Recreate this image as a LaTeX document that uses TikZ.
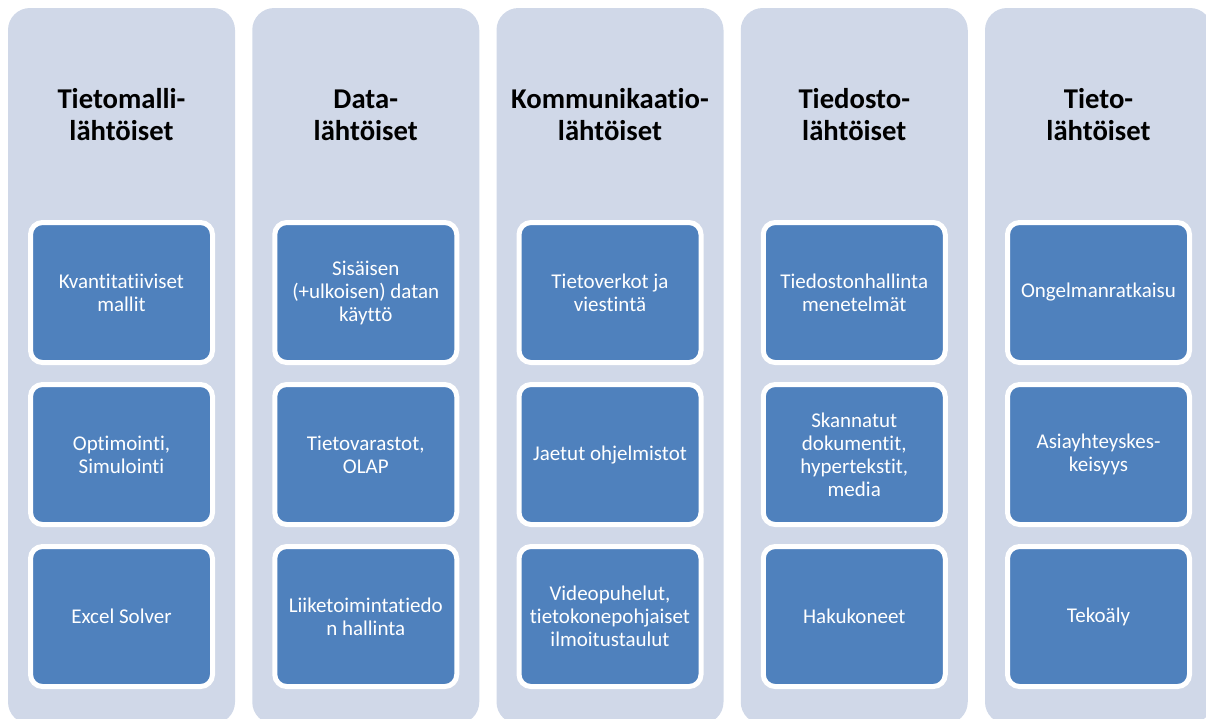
\documentclass[tikz,border=0pt]{standalone}
\usepackage{fontspec}
\setmainfont[Ligatures=CommonOff]{Carlito}
\definecolor{lanebg}{HTML}{D0D8E8}
\definecolor{itemblue}{HTML}{4F81BD}
\begin{document}
\begin{tikzpicture}[x=0.75pt,y=-0.75pt,
  lane/.style={fill=lanebg, draw=none, rounded corners=16.5pt,
    minimum width=170.25pt, minimum height=537pt, inner sep=0pt},
  lanetitle/.style={align=center, text=black, inner sep=0pt,
    font=\bfseries\fontsize{21.5}{24}\selectfont},
  itembox/.style={fill=itemblue, draw=white, line width=3.75pt,
    rounded corners=9pt, minimum width=136.5pt, minimum height=105pt,
    inner sep=0pt, align=center, text=white,
    font=\fontsize{15.75}{17.25}\selectfont}
]
\useasboundingbox (0,0) rectangle (1206,718);
\clip (0,0) rectangle (1206,718);

% lanes
\node[lane] (lane1) at (121.5,366) {};
\node[lane] (lane2) at (365.75,366) {};
\node[lane] (lane3) at (610,366) {};
\node[lane] (lane4) at (854.25,366) {};
\node[lane] (lane5) at (1098.5,366) {};

% lane headings
\node[lanetitle] (t1) at (121.5,115) {Tietomalli-\\lähtöiset};
\node[lanetitle] (t2) at (365.75,115) {Data-\\lähtöiset};
\node[lanetitle] (t3) at (610,115) {Kommunikaatio-\\lähtöiset};
\node[lanetitle] (t4) at (854.25,115) {Tiedosto-\\lähtöiset};
\node[lanetitle] (t5) at (1098.5,115) {Tieto-\\lähtöiset};

% first lane
\node[itembox] (a1) at (121.5,292.5) {Kvantitatiiviset\\mallit};
\node[itembox] (a2) at (121.5,454.5) {Optimointi,\\Simulointi};
\node[itembox] (a3) at (121.5,616.5) {Excel Solver};

% second lane
\node[itembox] (b1) at (365.75,292.5) {Sisäisen\\(+ulkoisen) datan\\käyttö};
\node[itembox] (b2) at (365.75,454.5) {Tietovarastot,\\OLAP};
\node[itembox] (b3) at (365.75,616.5) {Liiketoimintatiedo\\n hallinta};

% third lane
\node[itembox] (c1) at (610,292.5) {Tietoverkot ja\\viestintä};
\node[itembox] (c2) at (610,454.5) {Jaetut ohjelmistot};
\node[itembox] (c3) at (610,616.5) {Videopuhelut,\\tietokonepohjaiset\\ilmoitustaulut};

% fourth lane
\node[itembox] (d1) at (854.25,292.5) {Tiedostonhallinta\\menetelmät};
\node[itembox] (d2) at (854.25,454.5) {Skannatut\\dokumentit,\\hypertekstit,\\media};
\node[itembox] (d3) at (854.25,616.5) {Hakukoneet};

% fifth lane
\node[itembox] (e1) at (1098.5,292.5) {Ongelmanratkaisu};
\node[itembox] (e2) at (1098.5,454.5) {Asiayhteyskes-\\keisyys};
\node[itembox] (e3) at (1098.5,616.5) {Tekoäly};
\end{tikzpicture}
\end{document}
